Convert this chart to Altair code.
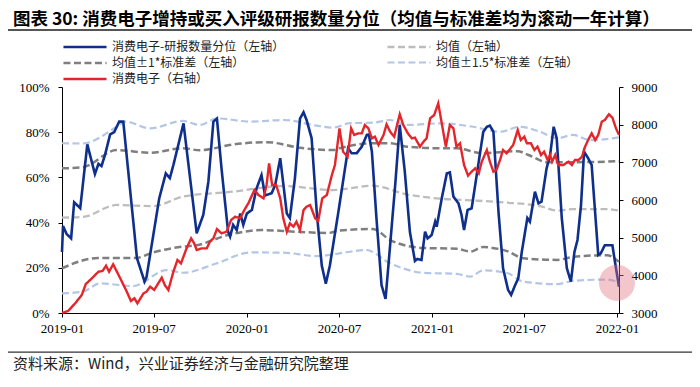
import altair as alt
import pandas as pd

TITLE = "图表 30: 消费电子增持或买入评级研报数量分位（均值与标准差均为滚动一年计算）"
FOOTER = "资料来源：Wind，兴业证券经济与金融研究院整理"

S_BLUE = "消费电子-研报数量分位（左轴）"
S_MEAN = "均值（左轴）"
S_SD1 = "均值±1*标准差（左轴）"
S_SD15 = "均值±1.5*标准差（左轴）"
S_RED = "消费电子（右轴）"
# legend is filled column by column: left column first, then right column
SERIES = [S_BLUE, S_SD1, S_RED, S_MEAN, S_SD15]
COLORS = ["#0f2f8c", "#7f7f7f", "#e3262b", "#bdbdbd", "#b4c6e6"]
DASHES = [[1, 0], [7, 3.5], [1, 0], [7, 3.5], [7, 3.5]]
WIDTHS = [2.6, 2.2, 2.6, 2.2, 2.2]

# days after 2019-01-01
blue_days = [0, 2, 9, 18, 24, 36, 50, 65, 72, 78, 85, 95, 103, 113, 121, 148, 163, 167, 192, 205,
             213, 220, 240, 266, 279, 289, 299, 306, 315, 328, 332, 338, 345, 352, 358, 365, 375, 384, 394, 401,
             414, 421, 431, 444, 450, 460, 470, 477, 483, 493, 503, 513, 521, 529, 546, 565, 572, 582, 592, 602,
             606, 612, 621, 631, 639, 648, 658, 667, 677, 687, 697, 702, 710, 717, 722, 730, 737, 740, 750, 760,
             766, 773, 783, 789, 794, 801, 809, 816, 826, 832, 839, 845, 852, 862, 871, 881, 887, 895, 901, 908,
             919, 924, 934, 941, 947, 957, 964, 971, 977, 987, 997, 1005, 1012, 1018, 1025, 1031, 1039, 1046, 1059, 1064,
             1072, 1087, 1092, 1100]
blue_vals = [27, 38.5, 35, 33, 49, 46.4, 74.6, 61.5, 66, 65, 70, 79, 80, 84.7, 84.7, 24.3, 13.9, 16, 50.7, 61.8,
             59.7, 65.5, 83.9, 35.3, 43.4, 58, 84.7, 86, 64, 36, 33.8, 39, 36.7, 44, 39, 44, 45.6, 55, 61, 52,
             53, 56.6, 68.5, 44, 42, 59.6, 86, 88.8, 85.4, 77.3, 44.8, 21, 13, 21, 45, 72.9, 70.7, 70.7, 73.6, 78.8,
             79, 71.4, 42, 12.4, 6.2, 30, 56.6, 83.2, 62.5, 36, 23, 23.9, 23.5, 36, 33, 34.5, 40.4, 38.2, 50.8, 61.8,
             62.2, 51.5, 48.5, 43.4, 36.7, 45.6, 46.3, 56.6, 71.4, 80.2, 82.4, 82.9, 80.2, 44.8, 19.8, 10.2, 8, 12.4, 15.3, 27,
             42, 40.4, 53.7, 48.5, 49.3, 64, 70, 82.4, 77.3, 42, 19.8, 13.9, 27, 32.3, 47.8, 71.4, 68.5, 65.5, 25.7, 26.4,
             30, 30, 22.7, 11.6]

red_days = [0, 12, 26, 39, 47, 59, 72, 80, 87, 93, 101, 115, 128, 136, 143, 149, 161, 167, 174, 182,
            197, 203, 210, 220, 228, 235, 246, 255, 261, 266, 276, 286, 292, 299, 306, 315, 325, 334, 342, 352,
            360, 368, 380, 388, 398, 404, 409, 415, 423, 431, 437, 444, 450, 457, 463, 470, 477, 483, 490, 500,
            506, 514, 523, 533, 539, 548, 555, 564, 571, 577, 585, 592, 598, 605, 612, 618, 625, 635, 641, 648,
            656, 667, 674, 683, 691, 697, 707, 714, 720, 727, 735, 743, 750, 758, 766, 773, 779, 786, 794, 802,
            809, 816, 823, 829, 839, 845, 852, 858, 865, 871, 878, 891, 900, 906, 913, 918, 926, 933, 939, 946,
            952, 959, 964, 968, 974, 980, 990, 1000, 1007, 1013, 1020, 1027, 1033, 1039, 1046, 1053, 1059, 1066, 1072, 1080,
            1087, 1094, 1100]
red_vals = [3000, 3053, 3257, 3478, 3770, 3921, 4097, 4115, 4256, 4097, 4293, 3921, 3566, 3319, 3390, 3257, 3523, 3566, 3699, 3611,
            3938, 3743, 3611, 4097, 4407, 4319, 4717, 4982, 4850, 4673, 4717, 4717, 4893, 4982, 5230, 5115, 5159, 5469, 5557, 5513,
            5734, 5912, 6265, 6133, 6044, 6398, 6973, 6398, 6398, 6044, 5513, 5159, 5381, 5292, 5424, 5204, 5734, 5823, 5867, 5513,
            5442, 6044, 6133, 6664, 6929, 7903, 7283, 7150, 7903, 7726, 7770, 7770, 7991, 7903, 7637, 7681, 7460, 7726, 8009, 7814,
            7681, 8274, 7991, 7770, 7637, 7655, 7416, 7549, 7637, 8168, 8257, 8566, 8035, 7416, 7991, 7903, 7416, 7505, 6929, 6646,
            6752, 6841, 6708, 7018, 7327, 7018, 6752, 6796, 7062, 7327, 7239, 7460, 7858, 7593, 7681, 7505, 7505, 7327, 7416, 7195,
            7283, 7062, 7195, 7018, 7195, 6929, 6929, 7018, 6929, 7062, 7062, 7150, 7416, 7593, 7770, 7593, 7726, 8080, 8124, 8274,
            8186, 7903, 7726]

mean_days = [0, 41, 108, 180, 239, 338, 436, 535, 614, 681, 746, 812, 879, 944, 978, 1009, 1076, 1100]
mean_vals = [42.2, 42.5, 47.8, 47.3, 51.5, 53.7, 56.2, 54.4, 56.3, 52.5, 50.6, 49.8, 48.8, 47.3, 45.3, 46, 46, 45.3]

sd1u_days = [0, 41, 108, 174, 239, 272, 338, 404, 470, 535, 548, 614, 648, 681, 746, 780, 829, 900, 920, 960, 1043, 1100]
sd1u_vals = [64, 64.5, 72.1, 70.9, 72.9, 72, 74.6, 75.6, 73.1, 72.1, 72.9, 75.1, 75.1, 73.6, 72.9, 72.9, 70.7, 71.6, 70, 66.7, 66.8, 67.2]

sd1l_days = [0, 71, 144, 183, 236, 266, 328, 394, 460, 525, 548, 614, 648, 713, 780, 806, 832, 850, 879, 911, 978, 1009, 1076, 1100]
sd1l_vals = [19.8, 24.3, 24.3, 27, 29.3, 30, 34.5, 36.7, 36, 35.4, 36.5, 37.2, 32.3, 28.8, 28.4, 27.2, 29.2, 28.8, 27.4, 24.2, 23.5, 24.8, 25.6, 22.7]

sd15u_days = [0, 41, 108, 125, 174, 239, 272, 306, 372, 437, 503, 535, 569, 614, 648, 681, 746, 812, 865, 904, 944, 978, 1009, 1043, 1100]
sd15u_vals = [75.1, 75, 82.4, 84.7, 81.7, 85, 83.2, 86.1, 84.7, 85.4, 82.9, 82, 84, 84.2, 85.4, 83.2, 83.9, 82.4, 80.2, 82.4, 80.2, 77.3, 78.8, 76.5, 77.7]

sd15l_days = [0, 41, 75, 140, 207, 239, 306, 372, 437, 503, 569, 600, 648, 713, 780, 806, 832, 879, 911, 978, 1009, 1076, 1100]
sd15l_vals = [8.7, 9.4, 13.1, 11.9, 19, 17.8, 22, 26.8, 26.7, 25.2, 27.1, 27.9, 22, 17.8, 17.3, 16.1, 18.9, 17.7, 13.9, 12.8, 14.2, 14.8, 13.4]

# highlight circle (right-axis units)
mark_days = [1096]
mark_vals = [3800]

# separator lines under the title and above the source note (left-axis units, full page width)
sep_days = [-117, 1254]
title_sep_v = [125.2, 125.2]
foot_sep_v = [-17.3, -17.3]

left_ticks = [0, 20, 40, 60, 80, 100]
right_ticks = [3000, 4000, 5000, 6000, 7000, 8000, 9000]
x_tick_labels = ["2019-01", "2019-07", "2020-01", "2020-07", "2021-01", "2021-07", "2022-01"]

BASE = pd.Timestamp("2019-01-01")


def to_date(d):
    return (BASE + pd.Timedelta(days=int(d))).strftime("%Y-%m-%dT00:00:00")


def frame(series, line, days, vals):
    return pd.DataFrame({"date": [to_date(d) for d in days], "series": series, "line": line, "v": vals})


df_blue = frame(S_BLUE, "b", blue_days, blue_vals)
df_red = frame(S_RED, "r", red_days, red_vals)
df_dash = pd.concat([
    frame(S_MEAN, "m", mean_days, mean_vals),
    frame(S_SD1, "s1u", sd1u_days, sd1u_vals),
    frame(S_SD1, "s1l", sd1l_days, sd1l_vals),
    frame(S_SD15, "s15u", sd15u_days, sd15u_vals),
    frame(S_SD15, "s15l", sd15l_days, sd15l_vals),
], ignore_index=True)
df_mark = pd.DataFrame({"date": [to_date(d) for d in mark_days], "v": mark_vals})
df_tsep = pd.DataFrame({"date": [to_date(d) for d in sep_days], "v": title_sep_v})
df_fsep = pd.DataFrame({"date": [to_date(d) for d in sep_days], "v": foot_sep_v})

W, H = 557, 226
NUMFONT = "Liberation Serif"
CJK = "Noto Sans CJK SC"

x_axis = alt.Axis(values=[alt.DateTime(year=int(t[:4]), month=int(t[5:]), date=1) for t in x_tick_labels],
                  format="%Y-%m", title=None, grid=False, ticks=True, tickSize=4, tickColor="black",
                  domain=True, domainColor="black",
                  labelFont=NUMFONT, labelFontSize=13, labelColor="black", labelPadding=5,
                  labelFlush=False, labelOverlap=False)
x_enc = alt.X("date:T", scale=alt.Scale(domain=[alt.DateTime(year=2019, month=1, date=1),
                                                alt.DateTime(year=2022, month=1, date=5)]), axis=x_axis)
left_axis = alt.Axis(values=left_ticks, labelExpr="datum.value + '%'", title=None, grid=False, ticks=True,
                     tickSize=4, tickColor="black",
                     domain=True, domainColor="black", labelFont=NUMFONT, labelFontSize=13,
                     labelColor="black", labelPadding=9)
right_axis = alt.Axis(values=right_ticks, format="d", orient="right", title=None, grid=False, ticks=True,
                      tickSize=4, tickColor="black",
                      domain=True, domainColor="black", labelFont=NUMFONT, labelFontSize=13,
                      labelColor="black", labelPadding=8)
y_left = alt.Y("v:Q", scale=alt.Scale(domain=[0, 100], nice=False), axis=left_axis)
y_right = alt.Y("v:Q", scale=alt.Scale(domain=[3000, 9000], nice=False), axis=right_axis)

# small symbol area with a long custom path keeps legend rows tight
legend = alt.Legend(title=None, orient="none", legendX=16, legendY=-47, columns=2, symbolType="M-4,0H4",
                    symbolSize=116, labelFont=CJK, labelFontSize=12, labelColor="#222",
                    labelOffset=20, columnPadding=97, rowPadding=3, gridAlign="all", labelLimit=400)
color = alt.Color("series:N", scale=alt.Scale(domain=SERIES, range=COLORS), legend=legend)
dash = alt.StrokeDash("series:N", scale=alt.Scale(domain=SERIES, range=DASHES), legend=legend)
sw = alt.StrokeWidth("series:N", scale=alt.Scale(domain=SERIES, range=WIDTHS), legend=legend)

dashed = alt.Chart(df_dash).mark_line(interpolate="monotone").encode(
    x=x_enc, y=y_left, color=color, strokeDash=dash, strokeWidth=sw, detail="line:N")
blue = alt.Chart(df_blue).mark_line().encode(
    x=x_enc, y=y_left, color=color, strokeDash=dash, strokeWidth=sw)
title_sep = alt.Chart(df_tsep).mark_line(color="#555", strokeWidth=2).encode(x=x_enc, y=y_left)
foot_sep = alt.Chart(df_fsep).mark_line(color="#333", strokeWidth=1.2).encode(x=x_enc, y=y_left)
left = alt.layer(dashed, blue, title_sep, foot_sep)

red = alt.Chart(df_red).mark_line().encode(
    x=x_enc, y=y_right, color=color, strokeDash=dash, strokeWidth=sw)
circle = alt.Chart(df_mark).mark_circle(size=1300, color="#e0707c", opacity=0.4).encode(x=x_enc, y=y_right)
right = alt.layer(red, circle)

# texts (no y scale): title and source note
one = pd.DataFrame({"t": [FOOTER], "title": [TITLE]})
title_text = alt.Chart(one).mark_text(align="left", baseline="middle", font=CJK, fontSize=17.5, fontWeight="bold",
                                      color="black").encode(x=alt.value(-49), y=alt.value(-67), text="title:N")
foot_text = alt.Chart(one).mark_text(align="left", baseline="middle", font=CJK, fontSize=15, color="#222").encode(
    x=alt.value(-49), y=alt.value(277), text="t:N")
deco = alt.layer(title_text, foot_text)

chart = alt.layer(left, right, deco).resolve_scale(y="independent").properties(
    width=W, height=H,
    padding={"left": 54, "top": 79, "right": 73, "bottom": 66},
    autosize=alt.AutoSizeParams(type="none"),
).configure_view(stroke=None)

chart.save("out.html", embed_options={"renderer": "svg", "actions": False})
